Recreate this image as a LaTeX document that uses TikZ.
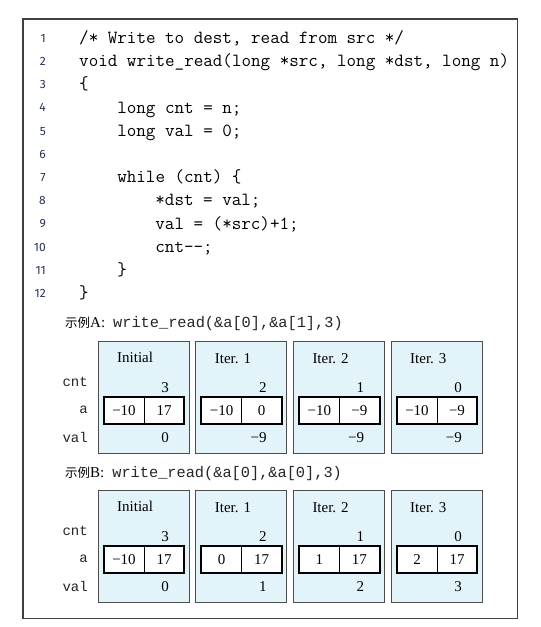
\documentclass[tikz,border=0pt]{standalone}
\usepackage{fontspec}
\newfontfamily\cour{Liberation Mono}
\newfontfamily\tms{Liberation Serif}
\newfontfamily\lnf{Fira Sans}
\newfontfamily\cjk{Noto Sans CJK SC}
\definecolor{boxfill}{RGB}{226,243,249}
\definecolor{lnum}{RGB}{38,52,88}
\tikzset{
 codeline/.style={anchor=base west, inner sep=0, font=\fontsize{18.55}{20}\selectfont\ttfamily},
 lnumst/.style={anchor=base east, inner sep=0, text=lnum, font=\fontsize{12}{14}\selectfont\lnf},
 panelbox/.style={draw=black!70, line width=0.8pt, fill=boxfill},
 titlest/.style={anchor=west, inner sep=0, font=\fontsize{15}{17}\selectfont\tms},
 numst/.style={anchor=east, inner sep=0, font=\fontsize{15}{17}\selectfont\tms},
 cellst/.style={draw=black, line width=0.9pt, fill=white, minimum width=40pt, minimum height=27pt, inner sep=0, font=\fontsize{15}{17}\selectfont\tms},
 arrayst/.style={draw=black, line width=2pt},
 rowlab/.style={anchor=east, inner sep=0, text=black!85, font=\fontsize{14}{16}\selectfont\cour},
 capst/.style={anchor=west, inner sep=0},
 outerframe/.style={draw=black!75, line width=1.1pt},
}
% #1 name, #2 left, #3 top, #4 title, #5 cnt, #6 a0, #7 a1, #8 val, #9 title offset
\newcommand\drawpanel[9]{%
  \draw[panelbox] (#2,#3) rectangle ({#2+91},{#3+112.5});
  \node[titlest] (#1t) at ({#2+19},{#3+#9}) {#4};
  \node[numst] (#1c) at ({#2+71},{#3+47}) {#5};
  \node[cellst] (#1a0) at ({#2+26},{#3+69.5}) {#6};
  \node[cellst] (#1a1) at ({#2+66},{#3+69.5}) {#7};
  \draw[arrayst] (#1a0.north west) rectangle (#1a1.south east);
  \node[numst] (#1v) at ({#2+71},{#3+97}) {#8};
}
\newcommand\drawrowlabels[2]{%
  \node[rowlab] (#1cnt) at (88,{#2+41}) {cnt};
  \node[rowlab] (#1a) at (88,{#2+69}) {a};
  \node[rowlab] (#1val) at (88,{#2+96}) {val};
}
\begin{document}
\begin{tikzpicture}[x=1pt,y=-1pt]
\fill[white] (0,0) rectangle (541,627);
\useasboundingbox (0,0) rectangle (541,627);
\draw[outerframe] (23,19) rectangle (517.5,618.5);

% line numbers
\foreach \i in {1,...,12}
  \node[lnumst] (n\i) at (46,{42.2+(\i-1)*23.2}) {\i};

% code
\node[codeline] (c1) at (79,43.5) {/* Write to dest, read from src */};
\node[codeline] (c2) at (79,66.7) {void write\_read(long *src, long *dst, long n)};
\node[codeline] (c3) at (79,89.9) {\{};
\node[codeline] (c4) at (117.1,113.1) {long cnt = n;};
\node[codeline] (c5) at (117.1,136.3) {long val = 0;};
\node[codeline] (c7) at (117.1,182.7) {while (cnt) \{};
\node[codeline] (c8) at (155.2,205.9) {*dst = val;};
\node[codeline] (c9) at (155.2,229.1) {val = (*src)+1;};
\node[codeline] (c10) at (155.2,252.3) {cnt-{}-;};
\node[codeline] (c11) at (117.1,275.5) {\}};
\node[codeline] (c12) at (79,298.7) {\}};

% captions
\node[capst] (capA) at (65,324) {{\fontsize{12.5}{14}\selectfont\cjk 示例}{\fontsize{15}{17}\selectfont\tms A:}\hspace{8pt}{\fontsize{15.3}{17}\selectfont\color{black!85}\cour write\_read(\&a[0],\&a[1],3)}};
\node[capst] (capB) at (65,474) {{\fontsize{12.5}{14}\selectfont\cjk 示例}{\fontsize{15}{17}\selectfont\tms B:}\hspace{8pt}{\fontsize{15.3}{17}\selectfont\color{black!85}\cour write\_read(\&a[0],\&a[0],3)}};

% example A
\drawrowlabels{A}{341}
\drawpanel{A1}{98}{341}{Initial}{3}{−10}{17}{0}{16}
\drawpanel{A2}{195.7}{341}{Iter. 1}{2}{−10}{0}{−9}{18}
\drawpanel{A3}{293.3}{341}{Iter. 2}{1}{−10}{−9}{−9}{18}
\drawpanel{A4}{391}{341}{Iter. 3}{0}{−10}{−9}{−9}{18}

% example B
\drawrowlabels{B}{490}
\drawpanel{B1}{98}{490}{Initial}{3}{−10}{17}{0}{16}
\drawpanel{B2}{195.7}{490}{Iter. 1}{2}{0}{17}{1}{18}
\drawpanel{B3}{293.3}{490}{Iter. 2}{1}{1}{17}{2}{18}
\drawpanel{B4}{391}{490}{Iter. 3}{0}{2}{17}{3}{18}
\end{tikzpicture}
\end{document}
